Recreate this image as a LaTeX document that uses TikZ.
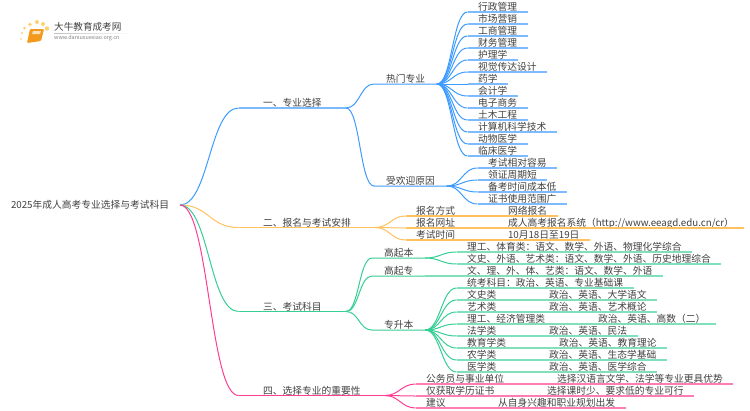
\documentclass[tikz,border=0pt]{standalone}
\usepackage{fontspec}
\setmainfont{Noto Sans CJK SC}
\definecolor{bluelink}{HTML}{3D9BFF}
\definecolor{bluepale}{HTML}{7DBBFF}
\definecolor{orangelink}{HTML}{FFC25E}
\definecolor{greenlink}{HTML}{35CE94}
\definecolor{greenpale}{HTML}{7FE0BC}
\definecolor{pinklink}{HTML}{FF3D94}
\definecolor{pinkpale}{HTML}{FF7DB5}
\definecolor{booklink}{HTML}{F39A1E}
\definecolor{dotlink}{HTML}{FFD070}
\tikzset{
  label text/.style={font=\fontsize{9.75}{12}\selectfont,text=black!75,inner ysep=0pt,outer sep=0pt,
    anchor=south west,text height=8.5pt,text depth=1.3pt},
  topic/.style={label text,inner xsep=24.5pt},
  sub/.style={label text,inner xsep=12pt},
  leaf/.style={label text,inner xsep=10.5pt},
  link/.style={line width=1pt},
  under/.style={line width=1.3pt}
}
\begin{document}
\begin{tikzpicture}[x=1pt,y=-1pt]
    \useasboundingbox (0,0) rectangle (750,410);
    % logo
    \foreach \dotx/\doty/\dotr in {21/39/0.8, 22/33/1.2, 24.5/28/1.5, 30/24.5/1.8, 37/22/2, 43/24/2, 47/28.5/2.2}
      \fill[dotlink] (\dotx,\doty) circle (\dotr);
    \fill[booklink,rounded corners=1pt] (30,29) -- (44,29) -- (41,41) -- (27,43) -- cycle;
    \fill[white!70!booklink] (33,31) -- (41,31) -- (40,34) -- (32,34) -- cycle;
    \node[font=\fontsize{9.6}{11}\selectfont,text=black!75,inner sep=0pt,anchor=west] (logoname) at (54,27) {大牛教育成考网};
    \node[font=\fontsize{5.4}{6}\selectfont,text=black!50,inner sep=0pt,anchor=west] (logourl) at (54,38.5) {www.daniuxuexiao.org.cn};
    \shade[left color=black!25,right color=white] (54,33) rectangle (133,33.6);

    % root and topics
    \node[label text,inner xsep=0pt,anchor=west] (root) at (11,205) {2025年成人高考专业选择与考试科目};
    \coordinate (start) at (180,205);
    \node[topic] (zy) at (238.5,108) {一、专业选择};
    \node[topic] (bm) at (238.5,227.5) {二、报名与考试安排};
    \node[topic] (ks) at (238.5,311.5) {三、考试科目};
    \node[topic] (zyx) at (238.5,395.5) {四、选择专业的重要性};

    % first topic
    \node[sub] (rm) at (374,84) {热门专业};
    \node[sub] (sh) at (374,186) {受欢迎原因};
    \node[leaf] (xz) at (467.5,12) {行政管理};
    \node[leaf] (sc) at (467.5,24) {市场营销};
    \node[leaf] (gs) at (467.5,36) {工商管理};
    \node[leaf] (cw) at (467.5,48) {财务管理};
    \node[leaf] (hl) at (467.5,60) {护理学};
    \node[leaf] (sj) at (467.5,72) {视觉传达设计};
    \node[leaf] (yx) at (467.5,84) {药学};
    \node[leaf] (kj) at (467.5,96) {会计学};
    \node[leaf] (ds) at (467.5,108) {电子商务};
    \node[leaf] (tm) at (467.5,120) {土木工程};
    \node[leaf] (jsj) at (467.5,132) {计算机科学技术};
    \node[leaf] (dw) at (467.5,144) {动物医学};
    \node[leaf] (lc) at (467.5,156) {临床医学};
    \node[leaf] (rongyi) at (477.5,168) {考试相对容易};
    \node[leaf] (lingz) at (477.5,180) {领证周期短};
    \node[leaf] (beik) at (477.5,192) {备考时间成本低};
    \node[leaf] (zhengs) at (477.5,204) {证书使用范围广};

    % second topic
    \node[leaf] (fs) at (405.5,216) {报名方式\hspace{53pt}网络报名};
    \node[leaf] (wz) at (405.5,228) {报名网址\hspace{53pt}成人高考报名系统（http://www.eeagd.edu.cn/cr）};
    \node[leaf] (sj2) at (405.5,240) {考试时间\hspace{53pt}10月18日至19日};

    % third topic
    \node[sub] (gqb) at (372,258) {高起本};
    \node[sub] (gqz) at (372,276) {高起专};
    \node[sub] (zsb) at (372,330) {专升本};
    \node[leaf] (lg) at (456.5,252) {理工、体育类：语文、数学、外语、物理化学综合};
    \node[leaf] (wsh) at (456.5,264) {文史、外语、艺术类：语文、数学、外语、历史地理综合};
    \node[leaf] (wl) at (456.5,276) {文、理、外、体、艺类：语文、数学、外语};
    \node[leaf] (tk) at (456.5,288) {统考科目：政治、英语、专业基础课};
    \node[leaf] (ws) at (456.5,300) {文史类\hspace{52.75pt}政治、英语、大学语文};
    \node[leaf] (ys) at (456.5,312) {艺术类\hspace{52.75pt}政治、英语、艺术概论};
    \node[leaf] (jj) at (456.5,324) {理工、经济管理类\hspace{53pt}政治、英语、高数（二）};
    \node[leaf] (fx) at (456.5,336) {法学类\hspace{52.75pt}政治、英语、民法};
    \node[leaf] (jy) at (456.5,348) {教育学类\hspace{53pt}政治、英语、教育理论};
    \node[leaf] (nx) at (456.5,360) {农学类\hspace{52.75pt}政治、英语、生态学基础};
    \node[leaf] (yxl) at (456.5,372) {医学类\hspace{52.75pt}政治、英语、医学综合};

    % fourth topic
    \node[leaf] (gwy) at (415.5,384) {公务员与事业单位\hspace{53pt}选择汉语言文学、法学等专业更具优势};
    \node[leaf] (xl) at (415.5,396) {仅获取学历证书\hspace{52.75pt}选择课时少、要求低的专业可行};
    \node[leaf] (jyi) at (415.5,408) {建议\hspace{52.5pt}从自身兴趣和职业规划出发};

    % connectors
    \draw[link,bluelink] (start) .. controls +(29,0) and +(-29,0) .. (zy.south west);
    \draw[link,orangelink] (start) .. controls +(29,0) and +(-29,0) .. (bm.south west);
    \draw[link,greenlink] (start) .. controls +(29,0) and +(-29,0) .. (ks.south west);
    \draw[link,pinklink] (start) .. controls +(29,0) and +(-29,0) .. (zyx.south west);
    \draw[under,bluepale] (zy.south west) -- (zy.south east);
    \draw[under,orangelink] (bm.south west) -- (bm.south east);
    \draw[under,greenlink] (ks.south west) -- (ks.south east);
    \draw[under,pinklink] (zyx.south west) -- (zyx.south east);
    \foreach \sub in {rm,sh}
      \draw[link,bluelink] (zy.south east) .. controls +(14,0) and +(-14,0) .. (\sub.south west) -- (\sub.south east);
    \foreach \sub in {gqb,gqz,zsb}
      \draw[link,greenlink] (ks.south east) .. controls +(13,0) and +(-13,0) .. (\sub.south west) -- (\sub.south east);
    \foreach \item in {xz,sc,gs,cw,hl,sj,yx,kj,ds,tm,jsj,dw,lc} {
      \draw[link,bluelink] (rm.south east) .. controls +(15,0) and +(-15,0) .. (\item.south west);
      \draw[under,bluepale] (\item.south west) -- (\item.south east);
    }
    \foreach \item in {rongyi,lingz,beik,zhengs} {
      \draw[link,bluelink] (sh.south east) .. controls +(15,0) and +(-15,0) .. (\item.south west);
      \draw[under,bluepale] (\item.south west) -- (\item.south east);
    }
    \foreach \item in {fs,wz,sj2} {
      \draw[link,orangelink] (bm.south east) .. controls +(14,0) and +(-14,0) .. (\item.south west);
      \draw[under,orangelink] (\item.south west) -- (\item.south east);
    }
    \foreach \item in {lg,wsh} {
      \draw[link,greenlink] (gqb.south east) .. controls +(15,0) and +(-15,0) .. (\item.south west);
      \draw[under,greenpale] (\item.south west) -- (\item.south east);
    }
    \draw[under,greenpale] (gqz.south east) -- (wl.south west) -- (wl.south east);
    \foreach \item in {tk,ws,ys,jj,fx,jy,nx,yxl} {
      \draw[link,greenlink] (zsb.south east) .. controls +(15,0) and +(-15,0) .. (\item.south west);
      \draw[under,greenpale] (\item.south west) -- (\item.south east);
    }
    \foreach \item in {gwy,xl,jyi} {
      \draw[link,pinklink] (zyx.south east) .. controls +(14,0) and +(-14,0) .. (\item.south west);
      \draw[under,pinkpale] (\item.south west) -- (\item.south east);
    }
\end{tikzpicture}
\end{document}
